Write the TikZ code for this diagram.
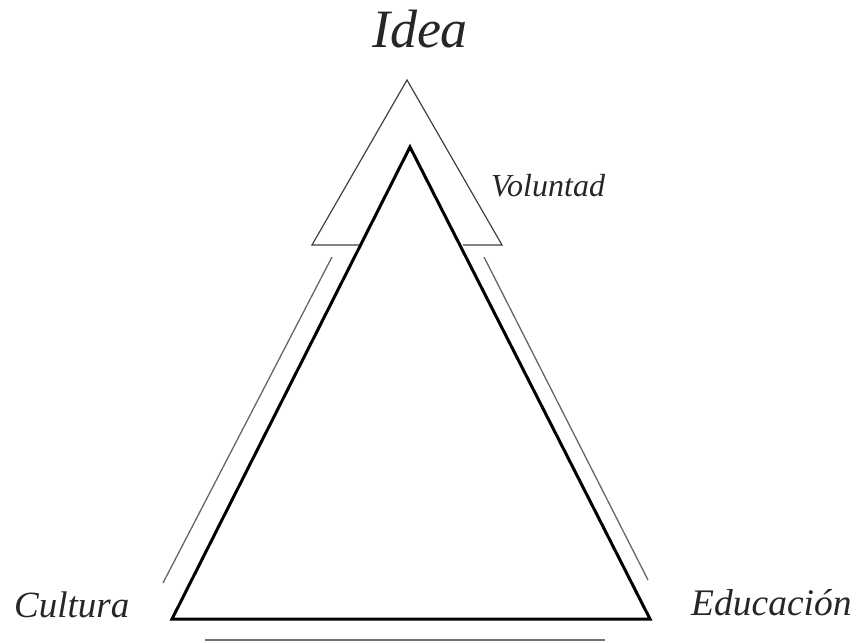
\documentclass[tikz,border=0pt]{standalone}
\usepackage{fontspec}
\setmainfont{Liberation Serif}
\begin{document}
\begin{tikzpicture}[x=1pt,y=-1pt,
  main/.style={line width=3pt,black,line join=miter},
  thin/.style={line width=1.2pt,black!75},
  shaft/.style={line width=1.3pt,black!60},
  lbl/.style={inner sep=0pt,font=\itshape,text=black!85}]
\useasboundingbox (0,0) rectangle (858,642);
% main triangle
\coordinate (A) at (410,147);
\coordinate (B) at (172,619);
\coordinate (C) at (650,619);
\draw[main] (A) -- (B) -- (C) -- cycle;
% arrowhead outline
\coordinate (H) at (407,80);
\coordinate (HL) at (312,245);
\coordinate (HR) at (502,245);
\coordinate (HLi) at (359,245);
\coordinate (HRi) at (463,245);
\draw[thin] (HLi) -- (HL) -- (H) -- (HR) -- (HRi);
% shaft lines
\coordinate (S1) at (332,257);
\coordinate (S2) at (163,583);
\coordinate (S3) at (484,257);
\coordinate (S4) at (648,580);
\draw[shaft] (S1) -- (S2);
\draw[shaft] (S3) -- (S4);
\coordinate (U1) at (205,640);
\coordinate (U2) at (605,640);
\draw[line width=1.6pt,black!55] (U1) -- (U2);
% labels
\node[lbl,anchor=base,font=\fontsize{54}{60}\selectfont\itshape] (idea) at (420,48) {Idea};
\node[lbl,anchor=base west,font=\fontsize{32}{38}\selectfont\itshape] (vol) at (491,196) {Voluntad};
\node[lbl,anchor=base west,font=\fontsize{37}{44}\selectfont\itshape] (cul) at (14,617) {Cultura};
\node[lbl,anchor=base west,font=\fontsize{37.5}{44}\selectfont\itshape] (edu) at (691,615) {Educación};
\end{tikzpicture}
\end{document}
